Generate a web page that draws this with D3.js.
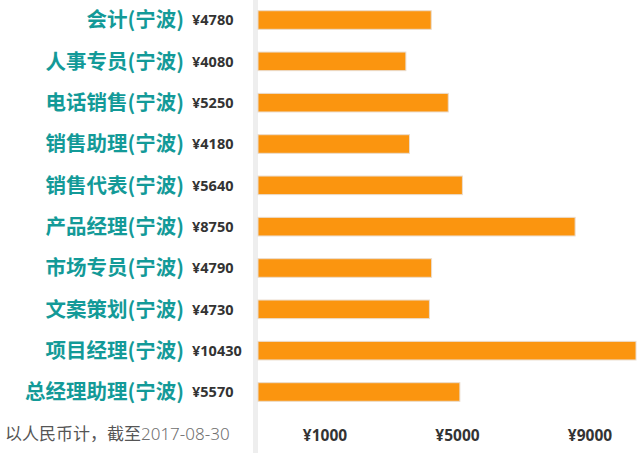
<!DOCTYPE html>
<html>
<head>
<meta charset="utf-8">
<script src="https://cdn.jsdelivr.net/npm/d3@7"></script>
<style>
  html, body { margin: 0; padding: 0; background: #fff; }
  svg { display: block; }
  .cat { font-family: "Noto Sans CJK SC", sans-serif; font-weight: 700; font-size: 20.5px; fill: #139a98; }
  .val { font-family: "Noto Sans", "DejaVu Sans", sans-serif; font-weight: 700; font-size: 14.5px; fill: #333; }
  .tick-label { font-family: "Noto Sans", "DejaVu Sans", sans-serif; font-weight: 700; font-size: 15.5px; fill: #333; }
  .note { font-family: "Noto Sans CJK SC", sans-serif; font-size: 17px; fill: #555; }
  .note-date { font-family: "Noto Sans", sans-serif; font-size: 17px; font-weight: 300; fill: #6f6f6f; }
</style>
</head>
<body>
<svg id="chart"></svg>
<script>
// Salary by job title (Ningbo), horizontal bars.
const WIDTH = 640;
const HEIGHT = 453;

const categories = [
  "会计(宁波)", "人事专员(宁波)", "电话销售(宁波)", "销售助理(宁波)", "销售代表(宁波)",
  "产品经理(宁波)", "市场专员(宁波)", "文案策划(宁波)", "项目经理(宁波)", "总经理助理(宁波)"
];
const salaries = [4780, 4080, 5250, 4180, 5640, 8750, 4790, 4730, 10430, 5570];
const tickLabels = ["¥1000", "¥5000", "¥9000"];
const noteText = "以人民币计，截至";
const noteDate = "2017-08-30";

const data = categories.map((c, i) => ({ name: c, value: salaries[i] }));

const svg = d3.select("#chart").attr("width", WIDTH).attr("height", HEIGHT);

const barLeft = 258;
const xScale = d3.scaleLinear()
  .domain([0, d3.max(salaries)])
  .range([barLeft, 636]);

const yScale = d3.scaleBand()
  .domain(categories)
  .range([-0.65, 412.65])
  .paddingInner(0.55)
  .paddingOuter(0.275);

// divider strip between labels and bars
svg.append("rect")
  .attr("x", 253).attr("y", 0)
  .attr("width", 5).attr("height", HEIGHT)
  .attr("fill", "#eeeeee");

const rows = svg.append("g").selectAll("g.row").data(data).join("g").attr("class", "row");

rows.append("rect")
  .attr("x", xScale(0))
  .attr("y", (d) => yScale(d.name))
  .attr("width", (d) => xScale(d.value) - xScale(0))
  .attr("height", yScale.bandwidth())
  .attr("fill", "#fb950f")
  .attr("stroke", "#eadccd")
  .attr("stroke-width", 1);

rows.append("text")
  .attr("class", "cat")
  .attr("x", 184)
  .attr("y", (d) => yScale(d.name) + yScale.bandwidth() / 2)
  .attr("dy", "0.36em")
  .attr("text-anchor", "end")
  .text((d) => d.name);

rows.append("text")
  .attr("class", "val")
  .attr("x", 192)
  .attr("y", (d) => yScale(d.name) + yScale.bandwidth() / 2)
  .attr("dy", "0.36em")
  .text((d) => `¥${d.value}`);

// bottom tick labels, evenly spaced
const tickScale = d3.scalePoint().domain(tickLabels).range([325, 590]);
svg.append("g").selectAll("text").data(tickLabels).join("text")
  .attr("class", "tick-label")
  .attr("x", (d) => tickScale(d))
  .attr("y", 435)
  .attr("dy", "0.36em")
  .attr("text-anchor", "middle")
  .text((d) => d);

const note = svg.append("text")
  .attr("class", "note")
  .attr("x", 5)
  .attr("y", 440);
note.append("tspan").text(noteText);
note.append("tspan").attr("class", "note-date").text(noteDate);
</script>
</body>
</html>
